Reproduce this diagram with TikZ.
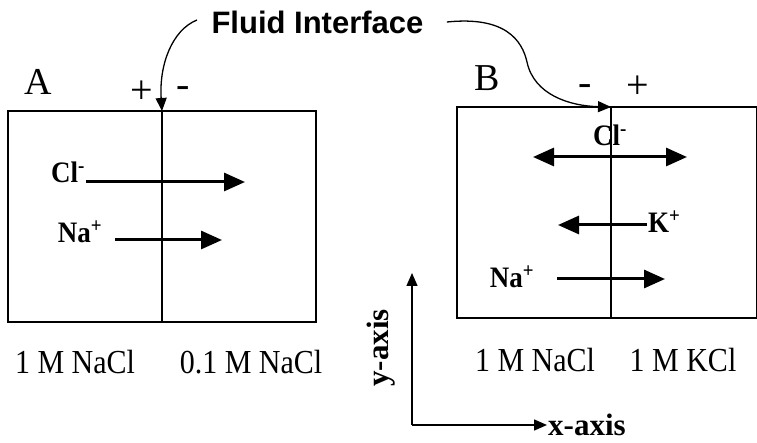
\documentclass[tikz,border=0pt]{standalone}
\usepackage{fontspec}
\setmainfont{Liberation Serif}
\newfontfamily\calloutfont{Liberation Sans}
\usetikzlibrary{arrows.meta,positioning}

\tikzset{
  half/.style={draw,line width=1.4pt,minimum height=211pt,inner sep=0pt,outer sep=0pt},
  conc/.style={font=\fontsize{30}{34}\selectfont,yscale=1.12},
  ion/.style={font=\bfseries\fontsize{27}{30}\selectfont,inner sep=1pt,yscale=1.1},
  sign/.style={font=\fontsize{40}{44}\selectfont},
  panel/.style={font=\fontsize{38}{42}\selectfont},
  flux/.style={line width=3pt,-{Triangle[length=21pt,width=18pt]}},
  callout/.style={line width=1.3pt,-{Triangle[length=13pt,width=11pt]}},
  axislbl/.style={font=\bfseries\fontsize{31}{34}\selectfont}
}

\begin{document}
\begin{tikzpicture}[x=1pt,y=-1pt]
\useasboundingbox (0,0) rectangle (757,443);

% callout
\node[font=\calloutfont\bfseries\fontsize{31}{34}\selectfont,anchor=west] (fluid) at (208,22) {Fluid Interface};

% cell A
\node[half,minimum width=154pt] (aL) at (85,216.5) {};
\node[half,minimum width=154pt] (aR) at (239,216.5) {};
\node[panel] (labA) at (38,82) {A};
\node[sign] (plusA) at (142,92) {+};
\node[sign] (minusA) at (183,92) {-};
\node[conc] (concAL) at (75,362) {1 M NaCl};
\node[conc] (concAR) at (251,362) {0.1 M NaCl};

\node[ion] (clA) at (68,172) {Cl\textsuperscript{-}};
\coordinate (clAend) at (245,182);
\draw[flux] (clA.east |- clAend) -- (clAend);
\node[ion] (naA) at (80,232) {Na\textsuperscript{+}};
\coordinate (naAend) at (222,240);
\draw[flux] (115,240) -- (naAend);

% cell B
\node[half,minimum width=154pt] (bL) at (534,212.5) {};
\node[half,minimum width=146pt] (bR) at (684,212.5) {};
\node[panel] (labB) at (487,78) {B};
\node[sign] (minusB) at (585,90) {-};
\node[sign] (plusB) at (638,87) {+};
\node[conc] (concBL) at (535,360) {1 M NaCl};
\node[conc] (concBR) at (683,360) {1 M KCl};

\node[ion] (clB) at (610,135) {Cl\textsuperscript{-}};
\coordinate (clBl) at (533,157);
\coordinate (clBr) at (687,157);
\draw[flux,{Triangle[length=21pt,width=18pt]}-{Triangle[length=21pt,width=18pt]}] (clBl) -- (clBr);
\node[ion,anchor=west] (kB) at (647,222) {K\textsuperscript{+}};
\coordinate (kBend) at (558,225);
\draw[flux] (kB.west |- kBend) -- (kBend);
\node[ion] (naB) at (512,277) {Na\textsuperscript{+}};
\coordinate (naBend) at (665,279);
\draw[flux] (557,279) -- (naBend);

% interface pointers
\draw[callout] (197,20) .. controls (172,30) and (159,65) .. (aL.north east);
\draw[callout] ([xshift=20pt]fluid.east) .. controls (505,16) and (522,40) .. (527,62)
  .. controls (534,95) and (570,106) .. (bL.north east);

% axes
\coordinate (origin) at (412,425);
\coordinate (ytip) at (412,273);
\coordinate (xtip) at (547,425);
\draw[line width=1.4pt,-{Triangle[length=13pt,width=11pt]}] (origin) -- (ytip);
\draw[line width=1.4pt,-{Triangle[length=13pt,width=11pt]}] (origin) -- (xtip);
\node[axislbl,anchor=west,inner sep=1pt] (xlbl) at (xtip) {x-axis};
\node[axislbl,rotate=90] (ylbl) at (381,348) {y-axis};
\end{tikzpicture}
\end{document}
